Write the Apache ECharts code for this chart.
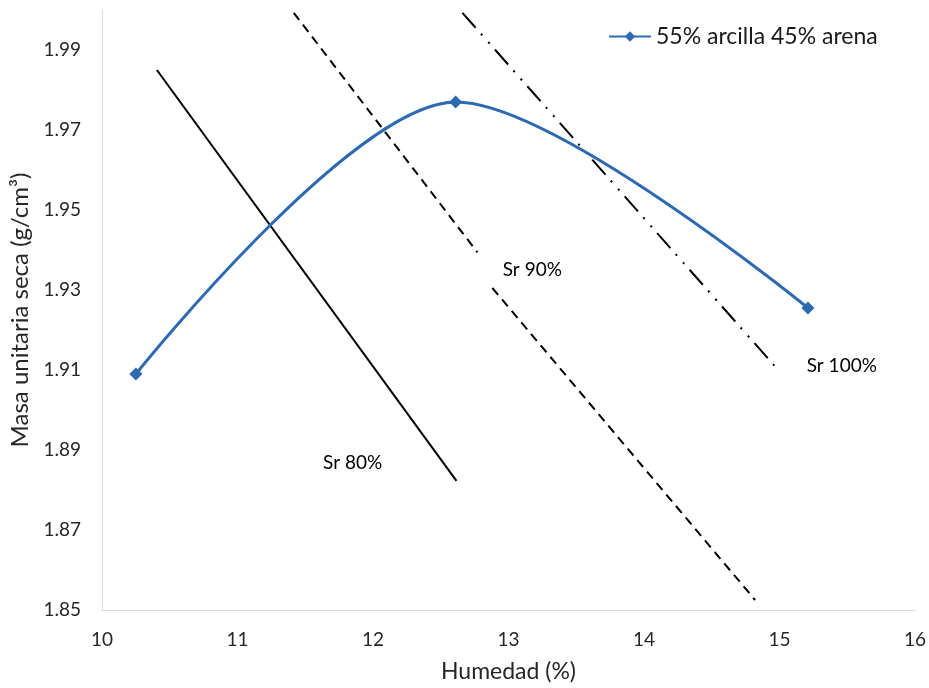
<!DOCTYPE html>
<html>
<head>
<meta charset="utf-8">
<script src="https://cdn.jsdelivr.net/npm/echarts@6/dist/echarts.min.js"></script>
<style>html,body{margin:0;padding:0;background:#fff}#c{width:929px;height:688px}</style>
</head>
<body>
<div id="c"></div>
<script>
// Data
var seriesName = '55% arcilla 45% arena';
var humedad = [10.25, 12.61, 15.21];
var masa = [1.909, 1.977, 1.9255];
var sr80 = [[10.405, 1.985], [12.616, 1.8823]];
var sr90a = [[11.415, 1.9993], [12.771, 1.9394]];
var sr90b = [[12.881, 1.9305], [14.82, 1.8525]];
var sr100 = [[12.66, 1.9993], [14.98, 1.9104]];
var srLabels = ['Sr 80%', 'Sr 90%', 'Sr 100%'];
var srLabelPos = [[11.85, 1.8868], [13.176, 1.935], [15.46, 1.9111]];
var xTicks = [10, 16, 1];
var yTicks = [1.85, 2.0, 0.02];

var FONT = 'Lato';
var blue = '#2E6AB1';
var chart = echarts.init(document.getElementById('c'), null, {renderer: 'canvas'});
var lineSer = function (data, type) {
  return {
    type: 'line', data: data, symbol: 'none', silent: true,
    lineStyle: {color: '#000', width: 2, type: type}, z: 2
  };
};
chart.setOption({
  animation: false,
  textStyle: {fontFamily: FONT},
  grid: {left: 102, right: 14, top: 10, bottom: 75},
  legend: {
    data: [seriesName], left: 603, top: 20, itemWidth: 42, itemHeight: 13, itemGap: 5,
    textStyle: {fontFamily: FONT, fontSize: 23, color: '#1a1a1a'}
  },
  xAxis: {
    type: 'value', min: xTicks[0], max: xTicks[1], interval: xTicks[2],
    name: 'Humedad (%)', nameLocation: 'middle', nameGap: 50,
    nameTextStyle: {fontFamily: FONT, fontSize: 23, color: '#262626'},
    axisLine: {lineStyle: {color: '#d9d9d9', width: 1}},
    axisTick: {show: false}, splitLine: {show: false},
    axisLabel: {fontFamily: FONT, fontSize: 19, color: '#262626', margin: 20}
  },
  yAxis: {
    type: 'value', min: yTicks[0], max: yTicks[1], interval: yTicks[2],
    name: 'Masa unitaria seca (g/cm\u00B3)', nameLocation: 'middle', nameGap: 63, nameRotate: 90,
    nameTextStyle: {fontFamily: FONT, fontSize: 24, color: '#262626'},
    axisLine: {show: true, lineStyle: {color: '#d9d9d9', width: 1}},
    axisTick: {show: false}, splitLine: {show: false},
    axisLabel: {
      fontFamily: FONT, fontSize: 19, color: '#262626', margin: 21,
      formatter: function (v) { return v > 1.995 ? '' : v.toFixed(2); }
    }
  },
  series: [
    lineSer(sr80, 'solid'),
    lineSer(sr90a, [9, 6]),
    lineSer(sr90b, [9, 6]),
    lineSer(sr100, [20, 8, 2, 9, 2, 8]),
    {
      type: 'scatter', data: srLabelPos.map(function (p, i) { return {value: p, name: srLabels[i]}; }),
      symbolSize: 0, silent: true, itemStyle: {opacity: 1},
      label: {show: true, opacity: 1, position: 'inside', formatter: '{b}', fontFamily: FONT, fontSize: 19, color: '#000'}
    },
    {
      name: seriesName, type: 'line', smooth: 0.3,
      data: humedad.map(function (x, i) { return [x, masa[i]]; }),
      symbol: 'diamond', symbolSize: 13,
      itemStyle: {color: blue}, lineStyle: {color: blue, width: 3}, z: 5
    }
  ]
});
</script>
</body>
</html>
